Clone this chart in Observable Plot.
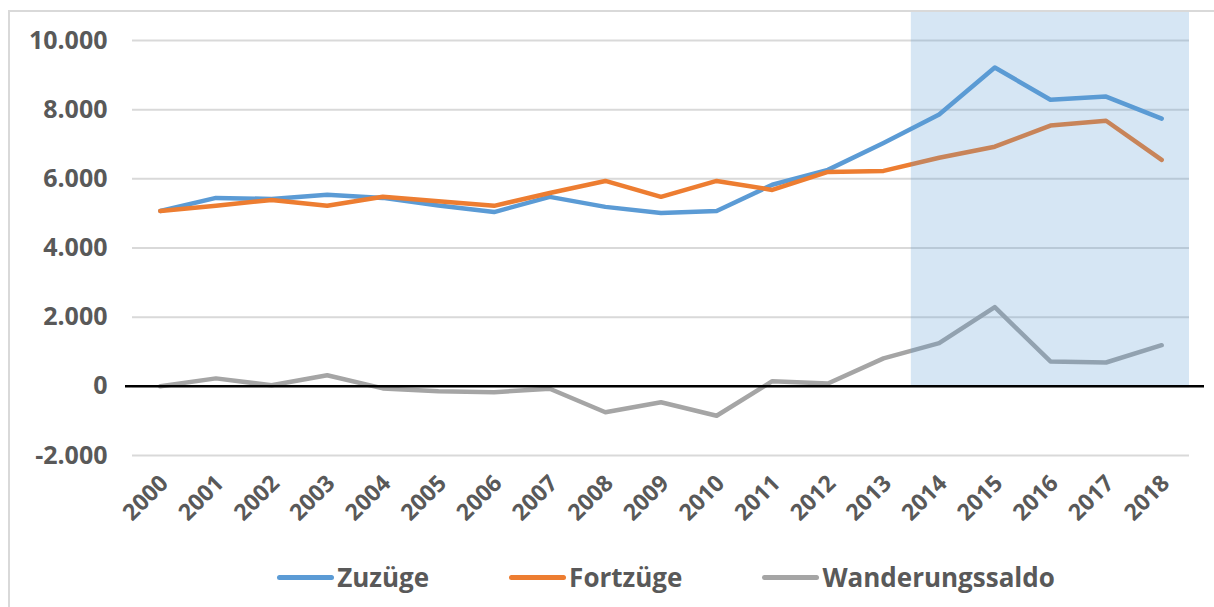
<!DOCTYPE html>
<html>
<head>
<meta charset="utf-8">
<script src="https://cdn.jsdelivr.net/npm/d3@7"></script>
<script src="https://cdn.jsdelivr.net/npm/@observablehq/plot@0.6"></script>
<style>
  html, body { margin: 0; padding: 0; background: #fff; }
  #wrap { position: relative; width: 1214px; height: 607px; overflow: hidden; font-family: "Open Sans", sans-serif; }
  #frame { position: absolute; left: 8px; top: 10px; width: 1230px; height: 620px; border: 2px solid #D9D9D9; box-sizing: border-box; pointer-events: none; }
  #chart { position: absolute; left: 0; top: 0; }
  #legend { position: absolute; left: 0; top: 560px; width: 1214px; height: 34px; display: flex; justify-content: center; align-items: center; gap: 80px; padding-left: 118px; box-sizing: border-box; }
  .item { display: flex; align-items: center; gap: 3px; font-size: 26px; font-weight: 700; color: #595959; }
  .sw { width: 57px; height: 5px; border-radius: 3px; }
</style>
</head>
<body>
<div id="wrap">
  <div id="chart"></div>
  <div id="legend"></div>
  <div id="frame"></div>
</div>
<script>
const years = [2000,2001,2002,2003,2004,2005,2006,2007,2008,2009,2010,2011,2012,2013,2014,2015,2016,2017,2018];
const zuzuege = [5070,5450,5420,5540,5450,5230,5040,5480,5190,5010,5070,5830,6260,7040,7860,9220,8290,8380,7740];
const fortzuege = [5070,5220,5390,5220,5480,5350,5220,5590,5940,5480,5940,5680,6200,6230,6610,6930,7540,7680,6550];
const saldo = [0,230,30,320,-60,-140,-170,-70,-750,-460,-850,150,80,810,1250,2290,720,690,1190];
const seriesNames = ["Zuzüge","Fortzüge","Wanderungssaldo"];
const seriesColors = ["#5B9BD5","#ED7D31","#A5A5A5"];
const yTicks = [-2000,0,2000,4000,6000,8000,10000];
const shadedYears = [2014,2015,2016,2017,2018];

const rows = [];
[zuzuege, fortzuege, saldo].forEach((arr, s) => {
  arr.forEach((v, i) => rows.push({year: years[i], value: v, series: seriesNames[s]}));
});

const yTop = 10840;
const shade = [{x1: d3.min(shadedYears) - 0.5, x2: d3.max(shadedYears) + 0.5, y1: 0, y2: yTop}];

const de = d3.formatLocale({decimal: ",", thousands: ".", grouping: [3], currency: ["", " €"], minus: "-"});
const fmt = de.format(",");

const chart = Plot.plot({
  width: 1214,
  height: 555,
  marginLeft: 132,
  marginRight: 25,
  marginTop: 11,
  marginBottom: 100,
  style: {fontFamily: "'Open Sans', sans-serif", color: "#595959", background: "transparent"},
  x: {type: "linear", domain: [years[0] - 0.5, years[years.length - 1] + 0.5]},
  y: {domain: [-2000, yTop]},
  color: {domain: seriesNames, range: seriesColors},
  marks: [
    Plot.gridY(yTicks, {stroke: "#D9D9D9", strokeOpacity: 1, strokeWidth: 2}),
    Plot.line(rows, {x: "year", y: "value", z: "series", stroke: "series", strokeWidth: 4.5, strokeLinejoin: "round", strokeLinecap: "round"}),
    Plot.rect(shade, {x1: "x1", x2: "x2", y1: "y1", y2: "y2", fill: "#5B9BD5", fillOpacity: 0.25}),
    Plot.ruleY([0], {stroke: "#000", strokeWidth: 2.5, insetLeft: -7, insetRight: -15}),
    Plot.axisY(yTicks, {tickSize: 0, tickPadding: 25, tickFormat: fmt, fontSize: 25, fontWeight: 700, fill: "#595959", label: null}),
    Plot.axisX(years, {tickSize: 0, tickPadding: 24, tickRotate: -45, tickFormat: d => String(d), fontSize: 23, fontWeight: 700, fill: "#595959", label: null, dx: 4})
  ]
});
document.getElementById("chart").appendChild(chart);

const legend = document.getElementById("legend");
seriesNames.forEach((n, i) => {
  const it = document.createElement("div");
  it.className = "item";
  const sw = document.createElement("span");
  sw.className = "sw";
  sw.style.background = seriesColors[i];
  const t = document.createElement("span");
  t.textContent = n;
  it.appendChild(sw); it.appendChild(t);
  legend.appendChild(it);
});
</script>
</body>
</html>
